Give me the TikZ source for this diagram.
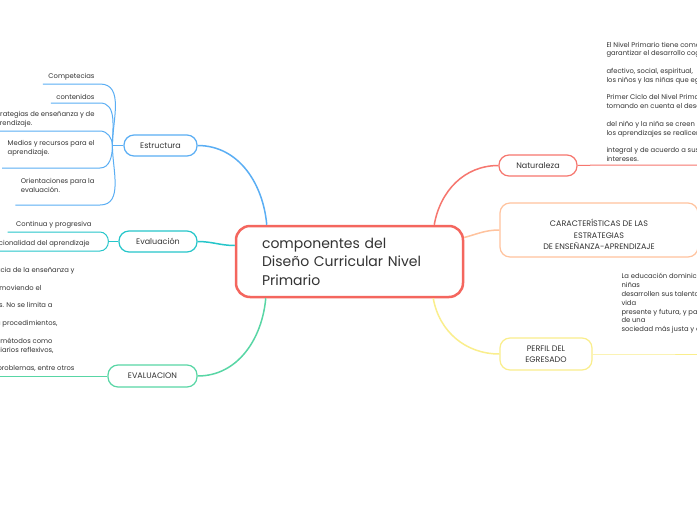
\documentclass[tikz,border=0pt]{standalone}
\usepackage{fontspec}
\setmainfont{Poppins}
\usetikzlibrary{positioning}
\definecolor{rootc}{HTML}{F4665E}
\definecolor{estc}{HTML}{5AAEF4}
\definecolor{evac}{HTML}{26C6CA}
\definecolor{evgc}{HTML}{58D6A5}
\definecolor{natc}{HTML}{F6766E}
\definecolor{carc}{HTML}{FFC39E}
\definecolor{perc}{HTML}{FAEE8C}
\definecolor{txtc}{HTML}{333333}

\begin{document}
\begin{tikzpicture}[x=1pt, y=1pt, line width=1pt, text=txtc,
          font=\fontsize{6.8}{8.8}\selectfont,
          branch/.style={draw, rounded corners=10pt, line width=1.2pt,
                         fill=white, inner sep=0pt, align=center,
                         font=\fontsize{8}{11.5}\selectfont},
          leaf/.style={inner xsep=5pt, inner ysep=3pt, align=left},
          link/.style={line width=1.5pt}]
        \useasboundingbox[fill=white] (0,0) rectangle (697,-520);
        % centre
        \node[draw=rootc, line width=2.5pt, rounded corners=14pt,
              text width=175pt, inner xsep=26pt, inner ysep=0pt,
              minimum height=71pt, align=left,
              font=\fontsize{14}{18.5}\selectfont]
              (root) at (349.5,-261.5)
              {componentes del\\Diseño Curricular Nivel\\Primario};
        % branches
        \node[branch, draw=estc, minimum width=73pt, minimum height=21pt]
              (est) at (160.5,-145.5) {Estructura};
        \node[branch, draw=evac, minimum width=78pt, minimum height=21pt]
              (eva) at (158,-241.5) {Evaluación};
        \node[branch, draw=evgc, minimum width=89pt, minimum height=22pt]
              (evg) at (152.5,-376) {EVALUACION};
        \node[branch, draw=natc, minimum width=78pt, minimum height=21pt]
              (nat) at (538,-165.5) {Naturaleza};
        \node[branch, draw=carc, minimum width=198pt, minimum height=54pt]
              (car) at (599,-230)
              {\rule{0pt}{17pt}CARACTERÍSTICAS DE LAS\\ESTRATEGIAS\\DE ENSEÑANZA-APRENDIZAJE};
        \node[branch, draw=perc, minimum width=92pt, minimum height=32pt]
              (per) at (546,-354) {PERFIL DEL\\EGRESADO};
        \draw[link, estc] ([xshift=32pt]root.north west) to[out=95,in=0] (est.east);
        \draw[link, evac] ([yshift=16pt]root.west) to[out=180,in=0] (eva.east);
        \draw[link, evgc] ([xshift=31pt]root.south west) to[out=-95,in=0] (evg.east);
        \draw[link, natc] ([xshift=-30pt]root.north east) to[out=80,in=180] (nat.west);
        \draw[link, carc] ([yshift=24pt]root.east) to[out=15,in=180] (car.west);
        \draw[link, perc] ([xshift=-31pt]root.south east) to[out=-80,in=180] (per.west);
        % Estructura leaves
        \node[leaf, anchor=south east] (c1) at (100,-84) {Competecias};
        \node[leaf, anchor=south east] (c2) at (100,-103) {contenidos};
        \node[leaf, anchor=south east] (c3) at (100,-131)
              {Estrategias de enseñanza y de\\aprendizaje.};
        \node[leaf, anchor=south east, inner ysep=11pt]
              (c4) at (100,-168) {Medios y recursos para el\\aprendizaje.};
        \node[leaf, anchor=south east, inner ysep=12pt]
              (c5) at (100,-205) {Orientaciones para la\\evaluación.};
        \coordinate (jest) at ([xshift=-11pt]est.west);
        \draw[estc] (est.west) -- (jest);
        \foreach \c/\o in {c1/90, c2/90, c3/90, c4/-90, c5/-90}{
          \draw[estc] (jest) to[out=\o,in=0] (\c.south east) -- (\c.south west);
        }
        % Evaluacion leaves
        \node[leaf, anchor=south east, inner xsep=8pt] (e1) at (100,-232)
              {Continua y progresiva};
        \node[leaf, anchor=south east, inner xsep=10pt] (e2) at (100,-251)
              {Funcionalidad del aprendizaje};
        \coordinate (jeva) at ([xshift=-10pt]eva.west);
        \draw[evac] (eva.west) -- (jeva);
        \draw[evac] (jeva) to[out=90,in=0] (e1.south east) -- (e1.south west);
        \draw[evac] (jeva) to[out=-90,in=0] (e2.south east) -- (e2.south west);
        % EVALUACION text
        \foreach \t/\x/\y [count=\i] in {{eficacia de la enseñanza y}/75/272.5,
            {promoviendo el}/42/290.5, {aprendizajes. No se limita a}/53/307.5,
            {a procedimientos,}/58/325.5, {utiliza métodos como}/53/343.5,
            {diarios reflexivos,}/54/352.5, {de problemas, entre otros}/75/370.5}{
          \node[anchor=base east, inner sep=0pt] (ev\i) at (\x,-\y) {\t};
        }
        \coordinate (evend) at (-5,-376);
        \draw[evgc] (evg.west) -- (evend);
        % Naturaleza text
        \node[leaf, anchor=south west, inner xsep=4pt] (nattxt) at (602,-165)
              {El Nivel Primario tiene como\\garantizar el desarrollo cognitivo\\[8.8pt]
               afectivo, social, espiritual,\\los niños y las niñas que egresan\\[8.8pt]
               Primer Ciclo del Nivel Primario\\tomando en cuenta el desarrollo\\[8.8pt]
               del niño y la niña se creen las\\los aprendizajes se realicen\\[8.8pt]
               integral y de acuerdo a sus\\intereses.};
        \draw[natc] (nat.east) -- (nattxt.south west) -- (nattxt.south east);
        % Perfil text
        \node[leaf, anchor=south west, inner xsep=4pt, inner ysep=20pt]
              (pertxt) at (617,-354)
              {La educación dominicana\\niñas\\desarrollen sus talentos\\vida\\
               presente y futura, y para\\de una\\sociedad más justa y equitativa};
        \draw[perc] (per.east) -- (pertxt.south west) -- (pertxt.south east);
      \end{tikzpicture}
\end{document}
